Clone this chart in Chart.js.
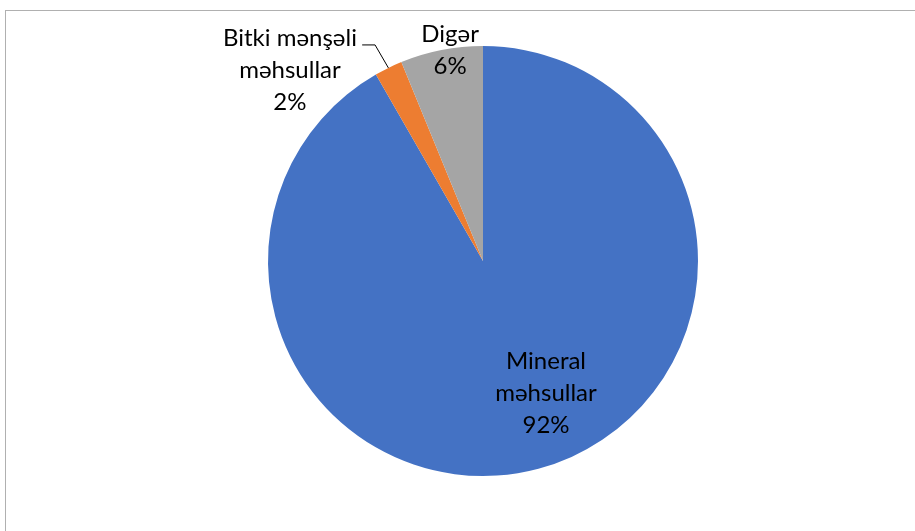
<!DOCTYPE html>
<html>
<head>
<meta charset="utf-8">
<script src="https://cdn.jsdelivr.net/npm/chart.js@4"></script>
<style>
  body { margin: 0; background: #fff; }
  #wrap { position: relative; width: 915px; height: 531px; overflow: hidden; }
  #frame { position: absolute; left: 5px; top: 10px; width: 1000px; height: 700px; border: 1px solid #b0b0b0; }
  #summary { position: absolute; left: 0; top: 0; }
</style>
</head>
<body>
<div id="wrap">
  <div id="frame"></div>
  <canvas id="summary" width="915" height="531"></canvas>
</div>
<script>
// slices, clockwise from 12 o'clock
const categories = [['Mineral', 'məhsullar'], ['Bitki mənşəli', 'məhsullar'], ['Digər']]
const shares = [91.7, 2.1, 6.2]
const colors = ['#4472C4', '#ED7D31', '#A5A5A5']

// label block centre (middle of the text block), in radius units from pie centre
const labelSpots = [
  { dx: 0.293, dy: 0.615 },
  { dx: -0.898, dy: -0.888, leader: { ex: -0.502, ey: -1.005, sx: -0.562 } },
  { dx: -0.153, dy: -0.98 }
]

const pieLabels = {
  id: 'pieLabels',
  afterDatasetsDraw(chart) {
    const ctx = chart.ctx
    const arcs = chart.getDatasetMeta(0).data
    const total = shares.reduce((a, b) => a + b, 0)
    ctx.save()
    ctx.font = '24px Lato'
    ctx.fillStyle = '#000'
    ctx.textAlign = 'center'
    ctx.textBaseline = 'middle'
    arcs.forEach((arc, i) => {
      const { x, y, outerRadius: r, startAngle, endAngle } = arc.getProps(['x', 'y', 'outerRadius', 'startAngle', 'endAngle'], true)
      const spot = labelSpots[i]
      const lines = categories[i].concat(Math.round(shares[i] / total * 100) + '%')
      const lh = 32
      const cx = x + spot.dx * r
      const cy = y + spot.dy * r
      lines.forEach((t, k) => {
        ctx.fillText(t, cx, cy + (k - (lines.length - 1) / 2) * lh)
      })
      if (spot.leader) {
        const mid = (startAngle + endAngle) / 2
        ctx.strokeStyle = '#000'
        ctx.lineWidth = 1
        ctx.beginPath()
        ctx.moveTo(x + spot.leader.sx * r, y + spot.leader.ey * r)
        ctx.lineTo(x + spot.leader.ex * r, y + spot.leader.ey * r)
        ctx.lineTo(x + Math.cos(mid) * r, y + Math.sin(mid) * r)
        ctx.stroke()
      }
    })
    ctx.restore()
  }
}

const summary = document.getElementById('summary')
let pieChart = new Chart(summary, {
  type: 'pie',
  data: {
    labels: categories.map(c => c.join(' ')),
    datasets: [{
      data: shares,
      backgroundColor: colors,
      borderWidth: 0
    }]
  },
  options: {
    responsive: false,
    animation: false,
    layout: { padding: { left: 100, right: 49, top: 46, bottom: 55 } },
    plugins: {
      legend: { display: false },
      tooltip: { enabled: false }
    }
  },
  plugins: [pieLabels]
})
</script>
</body>
</html>
